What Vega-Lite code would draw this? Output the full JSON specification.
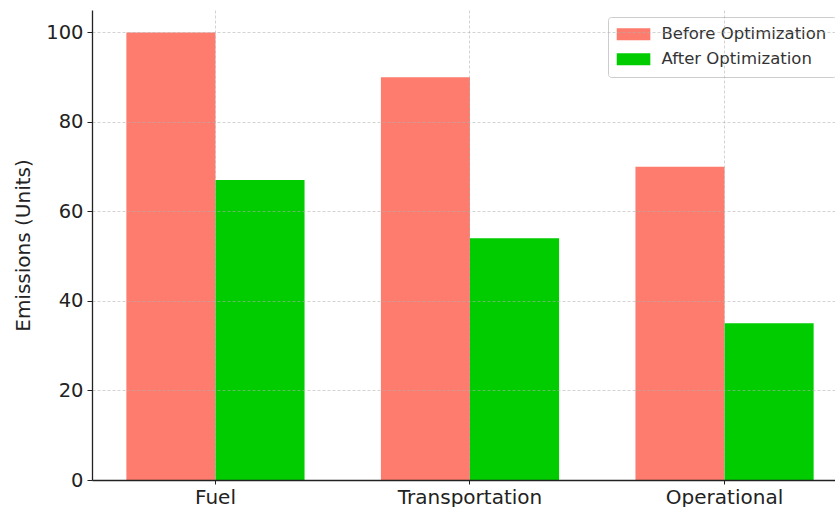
{
  "$schema": "https://vega.github.io/schema/vega-lite/v6.json",
  "width": 743,
  "height": 470,
  "autosize": {"type": "none"},
  "padding": {"left": 92, "top": 10, "right": 0, "bottom": 27},
  "background": "white",
  "config": {
    "view": {"stroke": null},
    "font": "DejaVu Sans"
  },
  "data": {
    "values": [
      {"category": "Fuel", "stage": "Before Optimization", "emissions": 100},
      {"category": "Fuel", "stage": "After Optimization", "emissions": 67},
      {"category": "Transportation", "stage": "Before Optimization", "emissions": 90},
      {"category": "Transportation", "stage": "After Optimization", "emissions": 54},
      {"category": "Operational", "stage": "Before Optimization", "emissions": 70},
      {"category": "Operational", "stage": "After Optimization", "emissions": 35}
    ]
  },
  "mark": {"type": "bar"},
  "encoding": {
    "x": {
      "field": "category",
      "type": "nominal",
      "sort": ["Fuel", "Transportation", "Operational"],
      "scale": {"range": [0, 756], "paddingInner": 0.3, "paddingOuter": 0.135},
      "axis": {
        "title": null,
        "labelAngle": 0,
        "labelFontSize": 20,
        "labelColor": "#222222",
        "labelPadding": 3,
        "tickSize": 4,
        "tickColor": "#222222",
        "tickWidth": 1,
        "bandPosition": 0.5,
        "domainColor": "#222222",
        "domainWidth": 1.3,
        "grid": true,
        "gridColor": "#b0b0b0",
        "gridOpacity": 0.7,
        "gridWidth": 0.8,
        "gridDash": [3, 2],
        "zindex": 1
      }
    },
    "xOffset": {
      "field": "stage",
      "type": "nominal",
      "sort": ["Before Optimization", "After Optimization"],
      "scale": {"paddingInner": 0, "paddingOuter": 0}
    },
    "y": {
      "field": "emissions",
      "type": "quantitative",
      "scale": {"domain": [0, 105], "nice": false},
      "axis": {
        "title": "Emissions (Units)",
        "titleFontSize": 20,
        "titleFontWeight": "normal",
        "titleColor": "#222222",
        "titlePadding": 12,
        "values": [0, 20, 40, 60, 80, 100],
        "labelFontSize": 19.5,
        "labelColor": "#222222",
        "labelPadding": 4,
        "tickSize": 5,
        "tickColor": "#222222",
        "tickWidth": 1,
        "domainColor": "#222222",
        "domainWidth": 1.3,
        "grid": true,
        "gridColor": "#b0b0b0",
        "gridOpacity": 0.7,
        "gridWidth": 0.8,
        "gridDash": [3, 2],
        "zindex": 1
      }
    },
    "color": {
      "field": "stage",
      "type": "nominal",
      "scale": {
        "domain": ["Before Optimization", "After Optimization"],
        "range": ["#fd7c6e", "#00cc00"]
      },
      "legend": {
        "title": null,
        "orient": "none",
        "legendX": 516,
        "legendY": 7,
        "padding": 9,
        "fillColor": "rgba(255,255,255,0.8)",
        "strokeColor": "#cccccc",
        "cornerRadius": 3,
        "symbolType": "M-1.42,-1H4.18V1H-1.42Z",
        "symbolSize": 144,
        "symbolStrokeWidth": 0,
        "labelFontSize": 16.5,
        "labelColor": "#333333",
        "labelOffset": 28,
        "labelLimit": 300,
        "rowPadding": 8
      }
    }
  }
}
